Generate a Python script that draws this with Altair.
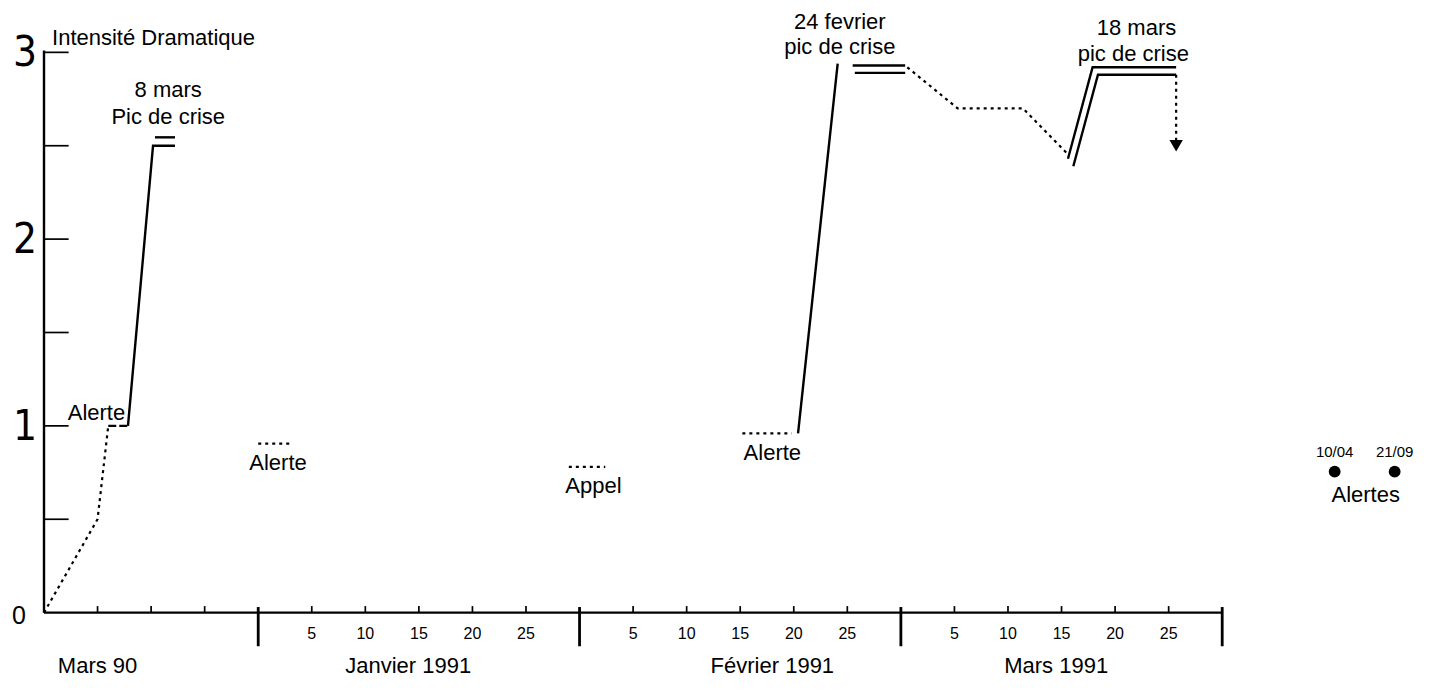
import altair as alt
import pandas as pd

# ---------------- data ----------------
# x unit = day position: Mars 90 block 0-20, Janvier 20-50, Fevrier 50-80, Mars 1991 80-110
month_bounds = [20, 50, 80, 110]
mars90_ticks = [5, 10, 15]
day_tick_pos = [25, 30, 35, 40, 45, 55, 60, 65, 70, 75, 85, 90, 95, 100, 105]
day_tick_labels = ["5", "10", "15", "20", "25"] * 3
month_names = ["Mars 90", "Janvier 1991", "Février 1991", "Mars 1991"]
month_name_pos = [5.0, 34.0, 68.0, 94.5]

y_ticks = [0.5, 1.0, 1.5, 2.0, 2.5, 3.0]
y_big_pos = [1, 2, 3]
y_big_labels = ["1", "2", "3"]
y_zero_pos = [0]
y_zero_label = ["0"]

# dotted segments (x, y)
dot_mars90_x = [0, 5, 6.0]
dot_mars90_y = [0, 0.5, 1.0]
dot_jan_x = [20.0, 23.2]
dot_jan_y = [0.905, 0.905]
dot_appel_x = [49.0, 52.4]
dot_appel_y = [0.78, 0.78]
dot_feb_x = [65.2, 69.8]
dot_feb_y = [0.96, 0.96]
dot_decline_x = [80.6, 85.3, 91.4, 95.5]
dot_decline_y = [2.92, 2.70, 2.70, 2.46]
dot_arrow_x = [105.7, 105.7]
dot_arrow_y = [2.88, 2.53]

# dashed "Alerte" plateau
dash_alerte_x = [6.0, 7.84]
dash_alerte_y = [1.0, 1.0]

# solid segments
sol_mars_x = [7.84, 10.18, 12.23]
sol_mars_y = [1.0, 2.50, 2.50]
sol_mars2_x = [10.36, 12.23]
sol_mars2_y = [2.545, 2.545]
sol_feb_rise_x = [70.4, 74.1]
sol_feb_rise_y = [0.96, 2.94]
sol_feb_top1_x = [75.5, 80.4]
sol_feb_top1_y = [2.93, 2.93]
sol_feb_top2_x = [75.7, 80.4]
sol_feb_top2_y = [2.89, 2.89]
sol_mar_a_x = [95.6, 97.9, 105.7]
sol_mar_a_y = [2.43, 2.92, 2.92]
sol_mar_b_x = [96.1, 98.4, 105.7]
sol_mar_b_y = [2.39, 2.88, 2.88]

arrow_x = [105.7]
arrow_y = [2.50]

# annotations
ann_text = ["8 mars", "Pic de crise", "Alerte", "Alerte", "Appel", "Alerte",
            "24 fevrier", "pic de crise", "18 mars", "pic de crise"]
ann_x = [11.6, 11.6, 4.9, 21.85, 51.3, 68.0, 74.3, 74.3, 102.0, 101.7]
ann_y = [2.80, 2.655, 1.07, 0.80, 0.68, 0.857, 3.162, 3.03, 3.13, 2.99]

legend_dates = ["10/04", "21/09"]
legend_x = [120.5, 126.1]
legend_y = [0.755, 0.755]
legend_title = ["Alertes"]
legend_title_x = [123.4]
legend_title_y = [0.63]

axis_title = ["Intensité Dramatique"]
axis_title_x = [0.75]
axis_title_y = [3.075]

# ---------------- chart ----------------
FONT = "Liberation Sans, Arial, Helvetica, sans-serif"
XS = alt.Scale(domain=[0, 128], nice=False, zero=False)
YS = alt.Scale(domain=[-0.35, 3.2], nice=False, zero=False)


def X(f="x"):
    return alt.X(f"{f}:Q", scale=XS, axis=None)


def Y(f="y"):
    return alt.Y(f"{f}:Q", scale=YS, axis=None)


def seg_df(segs):
    rows = []
    for sid, (xs, ys) in enumerate(segs):
        for i, (a, b) in enumerate(zip(xs, ys)):
            rows.append({"seg": sid, "i": i, "x": a, "y": b})
    return pd.DataFrame(rows)


layers = []

# y axis line and ticks
layers.append(alt.Chart(pd.DataFrame({"x": [0], "y": [0], "y2": [3.01]}))
              .mark_rule(color="black", strokeWidth=2.4)
              .encode(x=X(), y=Y(), y2="y2:Q"))
layers.append(alt.Chart(pd.DataFrame({"y": y_ticks, "x": [0] * len(y_ticks), "x2": [2.3] * len(y_ticks)}))
              .mark_rule(color="black", strokeWidth=1.7)
              .encode(x=X(), x2="x2:Q", y=Y()))

# x axis line
layers.append(alt.Chart(pd.DataFrame({"x": [0], "x2": [month_bounds[-1]], "y": [0]}))
              .mark_rule(color="black", strokeWidth=2.2)
              .encode(x=X(), x2="x2:Q", y=Y()))
minor = mars90_ticks + day_tick_pos
layers.append(alt.Chart(pd.DataFrame({"x": minor, "y": [0] * len(minor), "y2": [0.035] * len(minor)}))
              .mark_rule(color="black", strokeWidth=1.7)
              .encode(x=X(), y=Y(), y2="y2:Q"))
layers.append(alt.Chart(pd.DataFrame({"x": month_bounds, "y": [0.03] * 4, "y2": [-0.18] * 4}))
              .mark_rule(color="black", strokeWidth=2.8)
              .encode(x=X(), y=Y(), y2="y2:Q"))

# x tick labels & month labels
layers.append(alt.Chart(pd.DataFrame({"x": day_tick_pos, "y": [0] * len(day_tick_pos), "t": day_tick_labels}))
              .mark_text(font=FONT, fontSize=16, color="black", baseline="middle", dy=21)
              .encode(x=X(), y=Y(), text="t:N"))
layers.append(alt.Chart(pd.DataFrame({"x": month_name_pos, "y": [0] * 4, "t": month_names}))
              .mark_text(font=FONT, fontSize=22, color="black", baseline="middle", dy=53)
              .encode(x=X(), y=Y(), text="t:N"))

# y labels
layers.append(alt.Chart(pd.DataFrame({"y": y_big_pos, "t": y_big_labels}))
              .mark_text(font="Liberation Sans Narrow, DejaVu Sans Condensed, Liberation Sans", fontSize=42,
                         color="black", baseline="middle", dx=-19, dy=1)
              .encode(x=alt.X("xz:Q", scale=XS, axis=None), y=Y(), text="t:N")
              .transform_calculate(xz="0"))
layers.append(alt.Chart(pd.DataFrame({"y": y_zero_pos, "t": y_zero_label}))
              .mark_text(font=FONT, fontSize=25, color="black", baseline="middle", dx=-25, dy=3)
              .encode(x=alt.X("xz:Q", scale=XS, axis=None), y=Y(), text="t:N")
              .transform_calculate(xz="0"))
layers.append(alt.Chart(pd.DataFrame({"x": axis_title_x, "y": axis_title_y, "t": axis_title}))
              .mark_text(font=FONT, fontSize=22, color="black", baseline="middle", align="left")
              .encode(x=X(), y=Y(), text="t:N"))

# data lines
dotted = seg_df([(dot_mars90_x, dot_mars90_y), (dot_jan_x, dot_jan_y), (dot_appel_x, dot_appel_y),
                 (dot_feb_x, dot_feb_y), (dot_decline_x, dot_decline_y), (dot_arrow_x, dot_arrow_y)])
layers.append(alt.Chart(dotted).mark_line(color="black", strokeWidth=2.2, strokeDash=[3, 4])
              .encode(x=X(), y=Y(), detail="seg:N", order="i:Q"))
dashed = seg_df([(dash_alerte_x, dash_alerte_y)])
layers.append(alt.Chart(dashed).mark_line(color="black", strokeWidth=2.2, strokeDash=[8, 3])
              .encode(x=X(), y=Y(), detail="seg:N", order="i:Q"))
solid = seg_df([(sol_mars_x, sol_mars_y), (sol_mars2_x, sol_mars2_y), (sol_feb_rise_x, sol_feb_rise_y),
                (sol_feb_top1_x, sol_feb_top1_y), (sol_feb_top2_x, sol_feb_top2_y),
                (sol_mar_a_x, sol_mar_a_y), (sol_mar_b_x, sol_mar_b_y)])
layers.append(alt.Chart(solid).mark_line(color="black", strokeWidth=2.4, strokeJoin="miter")
              .encode(x=X(), y=Y(), detail="seg:N", order="i:Q"))
layers.append(alt.Chart(pd.DataFrame({"x": arrow_x, "y": arrow_y}))
              .mark_point(shape="triangle-down", filled=True, color="black", size=180, opacity=1)
              .encode(x=X(), y=Y()))

# annotations
layers.append(alt.Chart(pd.DataFrame({"x": ann_x, "y": ann_y, "t": ann_text}))
              .mark_text(font=FONT, fontSize=22, color="black", baseline="middle")
              .encode(x=X(), y=Y(), text="t:N"))

# legend (Alertes)
layers.append(alt.Chart(pd.DataFrame({"x": legend_x, "y": legend_y}))
              .mark_point(shape="circle", filled=True, color="black", size=140, opacity=1)
              .encode(x=X(), y=Y()))
layers.append(alt.Chart(pd.DataFrame({"x": legend_x, "y": legend_y, "t": legend_dates}))
              .mark_text(font=FONT, fontSize=15, color="black", baseline="middle", dy=-20)
              .encode(x=X(), y=Y(), text="t:N"))
layers.append(alt.Chart(pd.DataFrame({"x": legend_title_x, "y": legend_title_y, "t": legend_title}))
              .mark_text(font=FONT, fontSize=22, color="black", baseline="middle")
              .encode(x=X(), y=Y(), text="t:N"))

chart = (alt.layer(*layers)
         .properties(width=1371, height=663,
                     autosize=alt.AutoSizeParams(type="none"),
                     padding={"left": 36, "top": 7, "right": 5, "bottom": 5},
                     background="white")
         .configure_view(stroke=None))

chart.save("out.html", embed_options={"renderer": "svg", "actions": False})
